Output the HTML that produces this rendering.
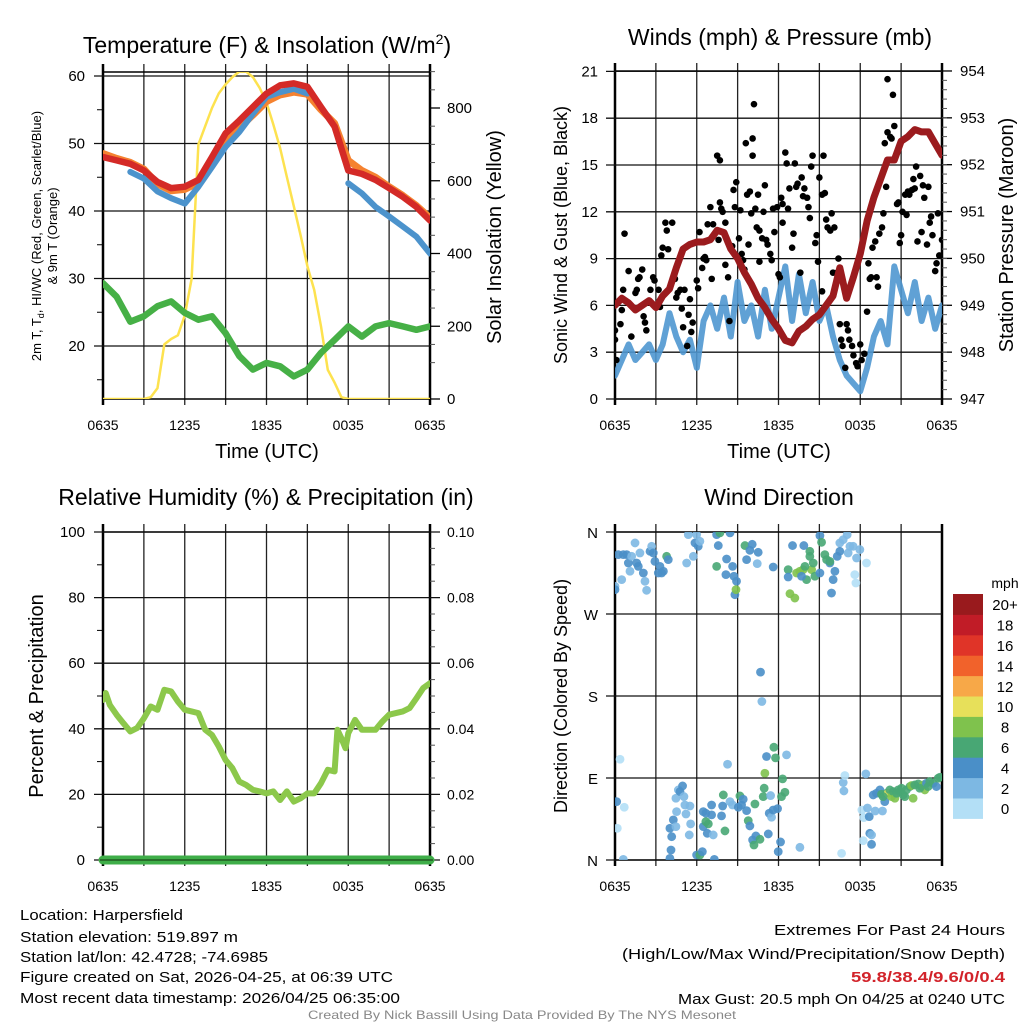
<!DOCTYPE html>
<html><head><meta charset="utf-8">
<style>
html,body{margin:0;padding:0;background:#fff;}
svg{display:block;font-family:"Liberation Sans",sans-serif;}
</style></head>
<body>
<svg id="fig" width="1024" height="1024" viewBox="0 0 1024 1024" xmlns="http://www.w3.org/2000/svg">
<defs>
<clipPath id="c1"><rect x="103" y="72" width="327" height="327"/></clipPath>
<clipPath id="c2"><rect x="615" y="71" width="327" height="328"/></clipPath>
<clipPath id="c3"><rect x="103" y="532" width="327" height="328"/></clipPath>
<clipPath id="c4"><rect x="615" y="532" width="327" height="328"/></clipPath>
</defs>
<g id="g1"></g>
<g id="g2"></g>
<g id="g3"></g>
<g id="g4"></g>

<text x="267" y="53" font-size="23" text-anchor="middle">Temperature (F) &amp; Insolation (W/m<tspan font-size="14" dy="-9">2</tspan><tspan dy="9">)</tspan></text>
<text x="780" y="45" font-size="23" text-anchor="middle">Winds (mph) &amp; Pressure (mb)</text>
<text x="266" y="505" font-size="23" text-anchor="middle">Relative Humidity (%) &amp; Precipitation (in)</text>
<text x="779" y="505" font-size="23" text-anchor="middle">Wind Direction</text>

<text transform="translate(41,236) rotate(-90)" font-size="13" text-anchor="middle">2m T, T<tspan font-size="9" dy="3">d</tspan><tspan dy="-3">, HI/WC (Red, Green, Scarlet/Blue)</tspan></text>
<text transform="translate(57,236) rotate(-90)" font-size="13" text-anchor="middle">&amp; 9m T (Orange)</text>
<text transform="translate(501,237) rotate(-90)" font-size="20" text-anchor="middle">Solar Insolation (Yellow)</text>
<text transform="translate(567,235) rotate(-90)" font-size="18" text-anchor="middle">Sonic Wind &amp; Gust (Blue, Black)</text>
<text transform="translate(1013,235) rotate(-90)" font-size="20" text-anchor="middle">Station Pressure (Maroon)</text>
<text transform="translate(43,696) rotate(-90)" font-size="20" text-anchor="middle">Percent &amp; Precipitation</text>
<text transform="translate(567,696) rotate(-90)" font-size="18" text-anchor="middle">Direction (Colored By Speed)</text>
<text x="267" y="458" font-size="20" text-anchor="middle">Time (UTC)</text>
<text x="779" y="458" font-size="20" text-anchor="middle">Time (UTC)</text>

<g font-size="15">
<text x="20" y="920" textLength="163" lengthAdjust="spacingAndGlyphs">Location: Harpersfield</text>
<text x="20" y="942" textLength="218" lengthAdjust="spacingAndGlyphs">Station elevation: 519.897 m</text>
<text x="20" y="962" textLength="248" lengthAdjust="spacingAndGlyphs">Station lat/lon: 42.4728; -74.6985</text>
<text x="20" y="982" textLength="373" lengthAdjust="spacingAndGlyphs">Figure created on Sat, 2026-04-25, at 06:39 UTC</text>
<text x="20" y="1003" textLength="380" lengthAdjust="spacingAndGlyphs">Most recent data timestamp: 2026/04/25 06:35:00</text>
</g>
<g font-size="15" text-anchor="end">
<text x="1005" y="935" textLength="231" lengthAdjust="spacingAndGlyphs">Extremes For Past 24 Hours</text>
<text x="1005" y="959" textLength="383" lengthAdjust="spacingAndGlyphs">(High/Low/Max Wind/Precipitation/Snow Depth)</text>
<text x="1005" y="982" fill="#d2232a" font-weight="bold" textLength="154" lengthAdjust="spacingAndGlyphs">59.8/38.4/9.6/0/0.4</text>
<text x="1005" y="1004" textLength="327" lengthAdjust="spacingAndGlyphs">Max Gust: 20.5 mph On 04/25 at 0240 UTC</text>
</g>
<text x="522" y="1019" font-size="12" fill="#888" text-anchor="middle" textLength="428" lengthAdjust="spacingAndGlyphs">Created By Nick Bassill Using Data Provided By The NYS Mesonet</text>
</svg>
<script>
// ---------- DATA ----------
const xTickLabels = ["0635","1235","1835","0035","0635"];
const tempHours = [0,1,2,3,4,5,6,7,8,9,10,11,12,13,14,15,16,17,18,19,20,21,22,23,24];
const temp2m   = [48,47.5,47,46,44.3,43.4,43.6,44.6,48,51.5,53.4,55.4,57.4,58.6,58.9,58.4,55.4,52.5,46,45.5,44.6,43.4,42.1,40.6,38.6];
const temp9m   = [48.5,47.8,47.2,46.2,44,43,43.2,44.2,47.2,50.3,52.3,54.2,56.2,57.2,57.6,57.3,55,53,47.5,46,45,43.6,42.3,40.8,39];
const heatIndex= [null,null,45.8,44.8,42.9,41.9,41.1,43.6,46.5,49.5,51.7,54.4,56.9,57.6,58.1,57.4,null,null,44.1,42.6,40.6,39.2,37.7,36.2,33.7];
const dewpoint = [29.3,27.3,23.6,24.4,25.9,26.6,24.9,23.9,24.4,21.9,18.5,16.5,17.5,17,15.5,16.5,19,20.9,22.9,21.4,22.9,23.4,22.9,22.4,22.9];
const solarHours = [0,0.5,1,1.5,2,2.5,3,3.5,4,4.5,5,5.5,6,6.5,7,7.5,8,8.5,9,9.5,10,10.5,11,11.5,12,12.5,13,13.5,14,14.5,15,15.5,16,16.5,17,17.5,18,19,20,21,22,23,24];
const solar = [0,0,0,0,0,0,0,5,30,150,165,175,230,330,700,750,800,840,865,885,900,900,885,855,815,755,690,610,530,450,365,300,200,80,45,5,0,0,0,0,0,0,0];
const tempTicks = [20,30,40,50,60];
const solarTicks = [0,200,400,600,800];

const windHours = [0,0.5,1,1.5,2,2.5,3,3.5,4,4.5,5,5.5,6,6.5,7,7.5,8,8.5,9,9.5,10,10.5,11,11.5,12,12.5,13,13.5,14,14.5,15,15.5,16,16.5,17,17.5,18,18.5,19,19.5,20,20.5,21,21.5,22,22.5,23,23.5,24];
const windSpeed = [1.5,2.5,3.5,2.5,3,3.5,2.5,3.5,5.5,4,3,3.8,2,5,6,4.5,6.5,4,7.5,5,6,4,7,4.5,6.5,8.5,5,8,5.5,7.5,5,6,4,2.5,1.5,1,0.5,2,4,5,3.5,8.5,7,5.5,7.5,5,6.5,4.5,6];
const pressure = [949,949.15,949.05,948.9,949,949.1,948.95,949.2,949.35,949.8,950.2,950.3,950.35,950.35,950.4,950.6,950.55,950.2,950,949.7,949.45,949.15,948.95,948.7,948.5,948.25,948.2,948.45,948.55,948.7,948.8,949,949.2,949.8,949.15,949.6,950.1,950.8,951.3,951.7,952.1,952.1,952.5,952.6,952.75,952.7,952.7,952.45,952.2];
const gustHours = [0,0,0.1,0.4,0.5,0.6,0.7,1.0,1.2,1.5,1.6,1.7,1.8,2.0,2.1,2.2,2.3,2.6,2.8,2.9,3.2,3.3,3.4,3.5,3.7,3.8,3.9,4.2,4.4,4.5,4.6,4.8,4.9,5.0,5.1,5.3,5.4,5.5,5.6,5.7,6.0,6.1,6.2,6.4,6.5,6.6,6.7,6.8,7.0,7.1,7.2,7.5,7.6,7.7,7.7,7.8,7.9,8.1,8.1,8.3,8.4,8.6,8.7,8.8,8.9,9.1,9.2,9.3,9.4,9.5,9.6,9.7,9.8,9.9,10.0,10.1,10.1,10.2,10.3,10.4,10.5,10.6,10.6,10.8,10.9,11.0,11.1,11.2,11.4,11.5,11.6,11.7,11.9,12.0,12.1,12.2,12.3,12.3,12.5,12.6,12.7,12.8,13.0,13.1,13.2,13.3,13.4,13.6,13.7,13.8,13.9,14.1,14.2,14.3,14.4,14.5,14.7,14.8,14.9,15.0,15.2,15.2,15.3,15.4,15.5,15.6,15.8,15.9,16.0,16.1,16.3,16.4,16.5,16.6,16.7,16.9,17.0,17.1,17.2,17.4,17.5,17.7,17.8,18.0,18.1,18.3,18.5,18.6,18.7,18.8,18.9,19.1,19.2,19.3,19.4,19.6,19.7,19.8,19.9,20.0,20.0,20.2,20.3,20.4,20.5,20.7,20.8,20.9,21.0,21.1,21.3,21.4,21.5,21.6,21.8,21.9,22.0,22.1,22.2,22.4,22.5,22.6,22.7,22.9,23.0,23.1,23.2,23.3,23.5,23.6,23.7,23.8,24.0];
const gustSpeed = [4.4,3.8,2.5,4.8,5.7,7.0,10.6,8.2,4.0,6.8,7.0,7.7,7.8,8.3,5.3,4.9,4.4,7.0,7.8,7.6,7.0,5.9,9.2,9.7,11.3,10.8,9.6,11.3,7.7,6.5,6.8,7.0,5.8,4.6,7.0,3.4,5.4,6.4,4.3,4.9,7.6,7.1,10.7,8.4,9.0,9.1,8.9,11.2,12.3,7.7,11.2,15.6,10.2,15.3,12.6,12.2,12.0,11.3,8.6,7.8,5.0,9.8,13.4,12.3,13.9,10.3,12.1,9.3,8.9,8.3,16.4,13.1,9.9,13.3,11.9,15.6,16.7,18.9,12.2,11.0,13.1,8.8,10.8,10.3,12.0,13.7,10.2,9.9,9.3,8.9,12.2,10.7,12.3,8.0,7.8,12.9,11.3,12.5,15.8,15.1,12.2,13.5,9.7,10.6,15.1,13.6,13.8,8.1,14.2,13.0,13.5,12.9,12.3,11.6,14.9,15.6,10.0,10.5,8.8,14.2,13.1,6.9,15.6,13.2,11.5,11.0,10.8,11.9,8.1,11.0,8.1,9.0,4.8,3.8,3.4,2.0,4.8,4.4,3.8,3.4,2.8,2.3,2.1,3.5,2.5,2.9,5.6,8.7,7.7,7.8,9.7,10.1,7.8,7.2,10.6,11.0,11.9,16.4,13.6,20.5,17.1,16.8,16.7,19.5,17.5,12.5,12.6,10.0,10.5,12.0,13.1,11.8,13.3,13.1,13.4,14.1,13.5,14.9,10.1,14.3,10.7,13.7,12.9,9.9,13.6,11.3,11.7,10.5,8.2,8.7,11.9,9.2,10.2];
const windTicks = [0,3,6,9,12,15,18,21];
const pressureTicks = [947,948,949,950,951,952,953,954];

const rhHours = [0,0.2,0.5,1,1.5,2,2.5,3,3.5,4,4.5,5,5.5,6,6.5,7,7.5,8,8.5,9,9.5,10,10.5,11,11.5,12,12.5,13,13.5,14,14.5,15,15.5,16,16.5,17,17.2,17.5,17.8,18,18.5,19,19.5,20,20.5,21,21.5,22,22.5,23,23.5,24];
const rh = [48.8,50.9,47.3,44.3,41.7,39.2,40.2,43.2,46.8,45.8,51.9,51.4,48.3,45.8,45.3,44.8,39.7,38.1,34.6,30.5,28,23.9,22.9,21.4,20.9,20.3,20.9,18.3,20.9,17.8,18.8,20.3,20.3,23.4,27.5,27,39.7,37.1,34.1,38.7,42.7,39.7,39.7,39.7,42.2,44.3,44.8,45.3,46.3,49.3,52.4,53.9];
const precipHours = [0,24];
const precip = [0,0];
const rhTicks = [0,20,40,60,80,100];
const precipTicks = ["0.00","0.02","0.04","0.06","0.08","0.10"];

const dirHours = [0,0,0.24,0.49,0.61,0.86,0.98,1.10,1.22,1.47,1.59,1.71,1.83,2.08,2.20,2.32,2.57,2.69,2.81,2.93,3.18,3.30,3.42,3.55,3.79,3.91,5.26,5.38,5.75,5.87,5.99,6.11,6.23,7.46,7.70,7.58,7.46,8.19,8.14,8.44,8.63,8.73,8.92,8.80,8.88,9.54,9.66,9.90,10.07,10.51,10.44,11.61,12.71,12.71,12.84,13.20,13.03,13.33,13.57,13.81,14.06,14.43,14.30,14.30,13.86,13.69,13.94,14.55,14.67,15.04,15.04,15.16,15.40,15.53,15.77,15.77,16.01,15.89,16.14,16.31,16.50,16.50,16.75,17.04,17.11,17.48,17.73,17.97,17.60,17.68,18.46,17.24,10.68,10.78,0.37,0.12,0.68,0.17,0.61,4.03,4.11,4.16,4.03,4.28,4.47,4.52,4.47,4.65,4.77,4.96,5.06,5.13,5.21,5.50,5.55,5.45,5.99,6.23,6.41,6.48,6.48,6.67,6.67,6.85,6.77,7.09,7.09,7.21,7.29,7.82,7.90,7.95,8.07,8.26,8.44,8.63,9.05,9.17,9.29,9.41,9.66,9.78,9.90,10.10,10.20,10.34,10.64,10.27,10.88,10.95,11.00,11.12,11.66,11.78,11.32,11.49,11.42,11.61,11.93,11.25,11.98,12.15,12.30,12.22,12.47,12.59,13.57,16.63,16.75,16.80,16.87,18.41,18.12,18.26,18.53,18.66,18.70,18.83,18.83,18.22,19.10,19.63,18.95,19.19,19.44,19.56,19.80,19.93,20.05,20.17,20.29,20.42,20.54,20.78,20.90,21.03,21.15,21.27,21.39,21.64,21.76,21.88,22.00,22.25,22.49,22.62,22.74,22.86,22.98,23.10,23.35,23.59,23.72,23.84,19.68,20.66,22.37];
const dirDegrees = [300.4,296.7,335.2,307.7,335.2,335.2,326.0,316.9,333.3,348.0,326.0,322.3,337.0,315.0,305.9,296.0,338.8,344.3,337.0,327.8,315.0,322.3,315.0,316.9,333.3,329.7,326.0,357.1,333.3,348.0,357.1,344.3,349.8,357.1,359.0,345.1,322.3,330.4,313.2,359.0,322.3,311.4,305.9,291.2,296.7,345.1,329.7,339.9,346.5,337.7,325.3,321.6,318.7,310.6,292.3,287.5,345.1,315.0,316.9,318.7,307.7,318.7,338.8,333.3,345.1,311.4,322.3,326.0,311.4,315.0,356.0,348.7,335.2,329.7,326.0,327.8,307.7,293.0,316.9,333.3,348.0,338.8,351.6,357.1,337.0,344.3,331.5,340.7,313.2,304.0,326.0,344.3,206.2,174.0,110.6,64.1,57.9,34.8,0.7,1.8,11.0,25.6,34.8,44.0,36.6,53.1,67.8,76.9,75.1,81.3,69.6,60.4,50.5,59.3,39.6,27.5,5.5,5.5,9.2,36.6,53.1,51.3,42.1,39.6,29.3,49.5,60.4,27.5,0.7,48.4,59.3,71.4,31.9,105.1,64.1,60.4,57.9,70.3,60.4,66.7,54.2,43.2,37.4,22.0,16.5,26.4,22.7,61.5,69.6,78.8,95.2,113.6,123.8,112.1,51.3,46.9,70.7,54.9,56.4,28.6,9.2,19.8,89.0,69.6,74.4,115.4,13.9,7.3,85.0,75.8,92.7,94.5,54.9,46.5,57.1,47.6,29.3,27.5,17.2,21.2,53.8,53.8,71.4,73.3,76.9,72.2,64.1,73.3,73.3,76.9,69.6,75.1,67.8,76.9,75.1,78.8,71.4,69.6,76.9,80.6,81.7,67.8,82.4,83.5,80.6,82.4,76.9,84.2,80.6,86.1,84.2,80.6,89.7,90.8,69.6,73.3,78.8];
const dirSpeeds = [3,5,5,3,5,5,5,3,3,3,5,5,3,5,3,3,5,3,5,5,5,5,5,5,7,5,3,3,3,5,3,5,3,5,7,5,7,5,5,5,5,5,5,5,9,7,5,5,5,5,3,5,7,5,9,9,5,9,9,9,7,9,7,7,5,5,7,7,7,5,5,7,7,7,5,7,5,5,5,5,3,5,3,3,3,3,3,3,1,1,1,3,5,3,1,5,1,1,3,5,5,5,5,5,3,3,3,3,5,5,3,3,3,3,3,3,5,7,5,5,5,5,7,7,5,5,5,3,5,5,5,7,7,3,3,3,5,7,5,5,5,7,5,5,7,5,7,7,7,7,9,5,7,7,5,3,3,5,5,5,5,5,7,7,7,3,3,1,3,3,1,3,1,1,3,5,5,3,5,1,3,3,5,5,5,7,5,7,11,7,9,7,9,7,7,7,7,7,7,7,9,9,7,7,7,9,9,5,7,7,7,5,7,7,7,7,7];
const dirTickLabels = ["N","E","S","W","N"];
const colorbarLabels = ["0","2","4","6","8","10","12","14","16","18","20+"];
const colorbarColors = ["#b3dff6","#7db8e3","#4a8fc8","#48a774","#7fc24d","#e7e05a","#f7a848","#f1622b","#e03428","#c11c27","#991a1d"];

// ---------- AXIS FUNCTIONS ----------
const xL = h => 103 + h*13.625;
const xR = h => 615 + h*13.625;
const yT = v => 346 - (v-20)*6.75;
const yS = w => 399 - w*0.36375;
const yW = v => 399 - v*15.6;
const yP = p => 399 - (p-947)*46.86;
const yRH = v => 860 - v*3.28;
const yD = d => 860 - d*(328/360);

const NS="http://www.w3.org/2000/svg";
function mk(parent, tag, attrs){
  const e=document.createElementNS(NS,tag);
  for(const k in attrs) e.setAttribute(k,attrs[k]);
  parent.appendChild(e); return e;
}
function line(parent,x1,y1,x2,y2,stroke,w){
  return mk(parent,'line',{x1:x1,y1:y1,x2:x2,y2:y2,stroke:stroke,'stroke-width':w});
}
function txt(parent,x,y,s,anchor,size){
  const t=mk(parent,'text',{x:x,y:y,'font-size':size||15,'text-anchor':anchor||'middle'});
  t.textContent=s; return t;
}
function pathFrom(xs,ys,fx,fy){
  let d='',pen=false;
  for(let i=0;i<xs.length;i++){
    if(ys[i]===null){pen=false;continue;}
    d+=(pen?'L':'M')+fx(xs[i]).toFixed(1)+','+fy(ys[i]).toFixed(1)+' ';
    pen=true;
  }
  return d;
}
function frame(g,x0,y0,w,h){
  const grid=mk(g,'g',{});
  
  
  for(let k=1;k<8;k++){
    const x=x0+k*w/8;
    line(grid,x,y0-8,x,y0+h+6,'#222',1.3);
  }
  const border=mk(g,'rect',{x:x0,y:y0,width:w,height:h,fill:'none',stroke:'#000','stroke-width':1.5});
  
  
  line(g,x0,y0-8,x0,y0+h+6,'#000',2.5);
  line(g,x0+w,y0-8,x0+w,y0+h+6,'#000',2.5);
}
function xTicks(g,fx,y){
  const gt=mk(g,'g',{});
  
  
  for(let i=0;i<xTickLabels.length;i++){
    txt(gt,fx(i*6),y,xTickLabels[i],'middle',14);
  }
}

// ---------- PANEL 1 ----------
const g1=document.getElementById('g1');
frame(g1,103,72,327,327);
for(const v of tempTicks){
  line(g1,94,yT(v),430,yT(v),'#111',1.3);
  txt(g1,85,yT(v)+5,String(v),'end',15);
}
for(let v=15;v<=55;v+=10) line(g1,97,yT(v),103,yT(v),'#000',1);
for(const w of solarTicks){
  line(g1,430,yS(w),440,yS(w),'#000',1.3);
  txt(g1,447,yS(w)+5,String(w),'start',15);
}
for(let w=100;w<=900;w+=50){ if(w%200) line(g1,430,yS(w),435,yS(w),'#555',1); }
xTicks(g1,xL,430);
const s1=mk(g1,'g',{'clip-path':'url(#c1)',fill:'none','stroke-linejoin':'round','stroke-linecap':'round'});
const pSolar=mk(s1,'path',{d:pathFrom(solarHours,solar,xL,yS),stroke:'#fde24f','stroke-width':2.5});


const pDew=mk(s1,'path',{d:pathFrom(tempHours,dewpoint,xL,yT),stroke:'#46b046','stroke-width':6.5});


const p9=mk(s1,'path',{d:pathFrom(tempHours,temp9m,xL,yT),stroke:'#f58230','stroke-width':7});


const pHI=mk(s1,'path',{d:pathFrom(tempHours,heatIndex,xL,yT),stroke:'#4c93cc','stroke-width':6});


const pT=mk(s1,'path',{d:pathFrom(tempHours,temp2m,xL,yT),stroke:'#d42a27','stroke-width':6.5});



// ---------- PANEL 2 ----------
const g2=document.getElementById('g2');
frame(g2,615,71,327,328);
for(const v of windTicks){
  line(g2,606,yW(v),942,yW(v),'#111',1.3);
  txt(g2,598,yW(v)+5,String(v),'end',15);
}
for(const p of pressureTicks){
  line(g2,942,yP(p),952,yP(p),'#000',1.3);
  txt(g2,960,yP(p)+5,String(p),'start',15);
}
for(let p=947.2;p<954;p+=0.2){ line(g2,942,yP(p),947,yP(p),'#555',1); }
xTicks(g2,xR,430);
const s2=mk(g2,'g',{'clip-path':'url(#c2)',fill:'none','stroke-linejoin':'round','stroke-linecap':'round'});
const pW=mk(s2,'path',{d:pathFrom(windHours,windSpeed,xR,yW),stroke:'#4f97d0','stroke-width':6,'stroke-opacity':0.9});


for(let i=0;i<gustHours.length;i++){
  const c=mk(s2,'circle',{cx:xR(gustHours[i]),cy:yW(gustSpeed[i]),r:3.3,fill:'#000'});
  
  
}
const pPr=mk(s2,'path',{d:pathFrom(windHours,pressure,xR,yP),stroke:'#9b1b1e','stroke-width':7});



// ---------- PANEL 3 ----------
const g3=document.getElementById('g3');
frame(g3,103,532,327,328);
for(let i=0;i<rhTicks.length;i++){
  const v=rhTicks[i];
  line(g3,94,yRH(v),440,yRH(v),'#111',1.3);
  txt(g3,85,yRH(v)+5,String(v),'end',15);
  txt(g3,447,yRH(v)+5,precipTicks[i],'start',14);
}
for(let v=10;v<100;v+=20) line(g3,97,yRH(v),103,yRH(v),'#000',1);
for(let v=5;v<100;v+=5){ if(v%20) line(g3,430,yRH(v),435,yRH(v),'#555',1); }
xTicks(g3,xL,891);
const s3=mk(g3,'g',{fill:'none','stroke-linejoin':'round','stroke-linecap':'round'});
const pRH=mk(s3,'path',{d:pathFrom(rhHours,rh,xL,yRH),stroke:'#8cc84b','stroke-width':6,'clip-path':'url(#c3)'});


const pPc=mk(s3,'path',{d:pathFrom(precipHours,precip,xL,h=>860 - h*3280),stroke:'#3fae49','stroke-width':9});


line(g3,100,860,433,860,'#1a4a1a',1.2);

// ---------- PANEL 4 ----------
const g4=document.getElementById('g4');
frame(g4,615,532,327,328);
for(let i=0;i<dirTickLabels.length;i++){
  const d=i*90;
  line(g4,606,yD(d),942,yD(d),'#111',1.3);
  txt(g4,598,yD(d)+6,dirTickLabels[i],'end',15);
}
xTicks(g4,xR,891);
const s4=mk(g4,'g',{'clip-path':'url(#c4)'});
for(let i=0;i<dirHours.length;i++){
  const bin=Math.min(10,Math.floor(dirSpeeds[i]/2));
  const c=mk(s4,'circle',{cx:xR(dirHours[i]),cy:yD(dirDegrees[i]),r:4.4,fill:colorbarColors[bin],'fill-opacity':0.9});
  
  
}
const cb=mk(g4,'g',{});


txt(cb,1005,588,'mph','middle',14);
const boxH=20.4;
for(let i=0;i<colorbarLabels.length;i++){
  const yTop=594+(10-i)*boxH;
  const r=mk(cb,'rect',{x:953,y:yTop,width:30,height:boxH+0.5,fill:colorbarColors[i]});
  
  
  txt(cb,1005,yTop+boxH/2+6,colorbarLabels[i],'middle',15);
}
</script>
</body></html>
